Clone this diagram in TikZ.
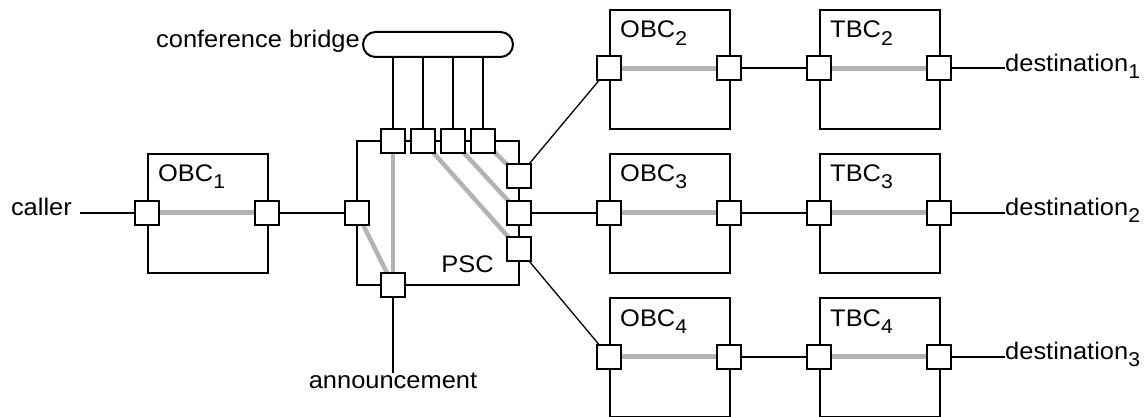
\documentclass[tikz,border=0pt]{standalone}
\usepackage{fontspec}
\setmainfont{Liberation Sans}[FakeStretch=1.06]
\usetikzlibrary{backgrounds}
\definecolor{trail}{HTML}{B3B3B3}
% lowered index digit for component names
\newcommand{\idx}[1]{\raisebox{-0.3em}{\fontsize{20}{20}\selectfont #1}}
\begin{document}
\begin{tikzpicture}[x=1pt,y=-1pt,
  box/.style={draw, line width=2pt, minimum width=120pt, minimum height=119pt,
              inner sep=0pt, anchor=north west},
  port/.style={draw, fill=white, line width=2pt, minimum size=24pt, inner sep=0pt},
  wire/.style={line width=2pt},
  slim/.style={line width=1.3pt},
  trailline/.style={line width=4.5pt, draw=trail},
  lbl/.style={inner sep=0pt, font=\fontsize{24}{28}\selectfont}]
\useasboundingbox (0,0) rectangle (1148,417);

% call components
\node[box] (obc1) at (147,153) {};
\node[box] (obc2) at (609,9) {};
\node[box] (obc3) at (609,153) {};
\node[box] (obc4) at (609,297) {};
\node[box] (tbc2) at (819,9) {};
\node[box] (tbc3) at (819,153) {};
\node[box] (tbc4) at (819,297) {};
\node[draw, line width=2pt, minimum width=162pt, minimum height=144pt, inner sep=0pt] (psc) at (438,213) {};

% conference bridge
\node[draw, line width=2pt, rounded corners=12.5pt, minimum width=150pt, minimum height=25pt, inner sep=0pt] (bridge) at (438,44.5) {};

% box labels
\node[lbl, anchor=base west] (l1) at (158,181.7) {OBC\idx{1}};
\node[lbl, anchor=base west] (l2) at (620,38) {OBC\idx{2}};
\node[lbl, anchor=base west] (l3) at (620,181.7) {OBC\idx{3}};
\node[lbl, anchor=base west] (l4) at (620,326) {OBC\idx{4}};
\node[lbl, anchor=base west] (m2) at (830,38) {TBC\idx{2}};
\node[lbl, anchor=base west] (m3) at (830,181.7) {TBC\idx{3}};
\node[lbl, anchor=base west] (m4) at (830,326) {TBC\idx{4}};
\node[lbl, anchor=base east] (lp) at (494,272.5) {PSC};

% ports
\node[port] (o1l) at (147,212.5) {};
\node[port] (o1r) at (267,212.5) {};
\node[port] (o2l) at (609,68.5) {};
\node[port] (o2r) at (729,68.5) {};
\node[port] (o3l) at (609,212.5) {};
\node[port] (o3r) at (729,212.5) {};
\node[port] (o4l) at (609,356.5) {};
\node[port] (o4r) at (729,356.5) {};
\node[port] (t2l) at (819,68.5) {};
\node[port] (t2r) at (939,68.5) {};
\node[port] (t3l) at (819,212.5) {};
\node[port] (t3r) at (939,212.5) {};
\node[port] (t4l) at (819,356.5) {};
\node[port] (t4r) at (939,356.5) {};
\node[port] (pl) at (357,212.5) {};
\node[port] (pt1) at (393,141) {};
\node[port] (pt2) at (423,141) {};
\node[port] (pt3) at (453,141) {};
\node[port] (pt4) at (483,141) {};
\node[port] (pr1) at (519,176) {};
\node[port] (pr2) at (519,212.5) {};
\node[port] (pr3) at (519,249) {};
\node[port] (pb) at (393,285) {};

% end points
\node[lbl, anchor=mid east] (caller) at (72,212.5) {caller};
\node[lbl, anchor=mid west] (d1) at (1005,68.5) {destination\idx{1}};
\node[lbl, anchor=mid west] (d2) at (1005,212.5) {destination\idx{2}};
\node[lbl, anchor=mid west] (d3) at (1005,356.5) {destination\idx{3}};
\node[lbl, anchor=base] (ann) at (393,388) {announcement};
\node[lbl, anchor=mid east, xshift=-2pt] (cb) at (bridge.west) {conference bridge};

\begin{scope}[on background layer]
  % signal paths inside components
  \draw[trailline] (o1l.center) -- (o1r.center);
  \draw[trailline] (o2l.center) -- (o2r.center);
  \draw[trailline] (o3l.center) -- (o3r.center);
  \draw[trailline] (o4l.center) -- (o4r.center);
  \draw[trailline] (t2l.center) -- (t2r.center);
  \draw[trailline] (t3l.center) -- (t3r.center);
  \draw[trailline] (t4l.center) -- (t4r.center);
  \draw[trailline] (pt1.center) -- (pb.center);
  \draw[trailline] (pl.center) -- (pb.center);
  \draw[trailline] (pt2.center) -- (pr3.center);
  \draw[trailline] (pt3.center) -- (pr2.center);
  \draw[trailline] (pt4.center) -- (pr1.center);

  % links between components
  \draw[wire] ([xshift=8pt]caller.mid east) -- (o1l.center);
  \draw[wire] (o1r.center) -- (pl.center);
  \draw[wire] (pr2.center) -- (o3l.center);
  \draw[slim] (pr1.center) -- (o2l.center);
  \draw[slim] (pr3.center) -- (o4l.center);
  \draw[wire] (o2r.center) -- (t2l.center);
  \draw[wire] (o3r.center) -- (t3l.center);
  \draw[wire] (o4r.center) -- (t4l.center);
  \draw[wire] (t2r.center) -- (d1.mid west);
  \draw[wire] (t3r.center) -- (d2.mid west);
  \draw[wire] (t4r.center) -- (d3.mid west);
  \draw[wire] (pb.center) -- ([yshift=-1pt]ann.north);
  \draw[wire] (bridge.south -| pt1) -- (pt1.center);
  \draw[wire] (bridge.south -| pt2) -- (pt2.center);
  \draw[wire] (bridge.south -| pt3) -- (pt3.center);
  \draw[wire] (bridge.south -| pt4) -- (pt4.center);
\end{scope}
\end{tikzpicture}
\end{document}
